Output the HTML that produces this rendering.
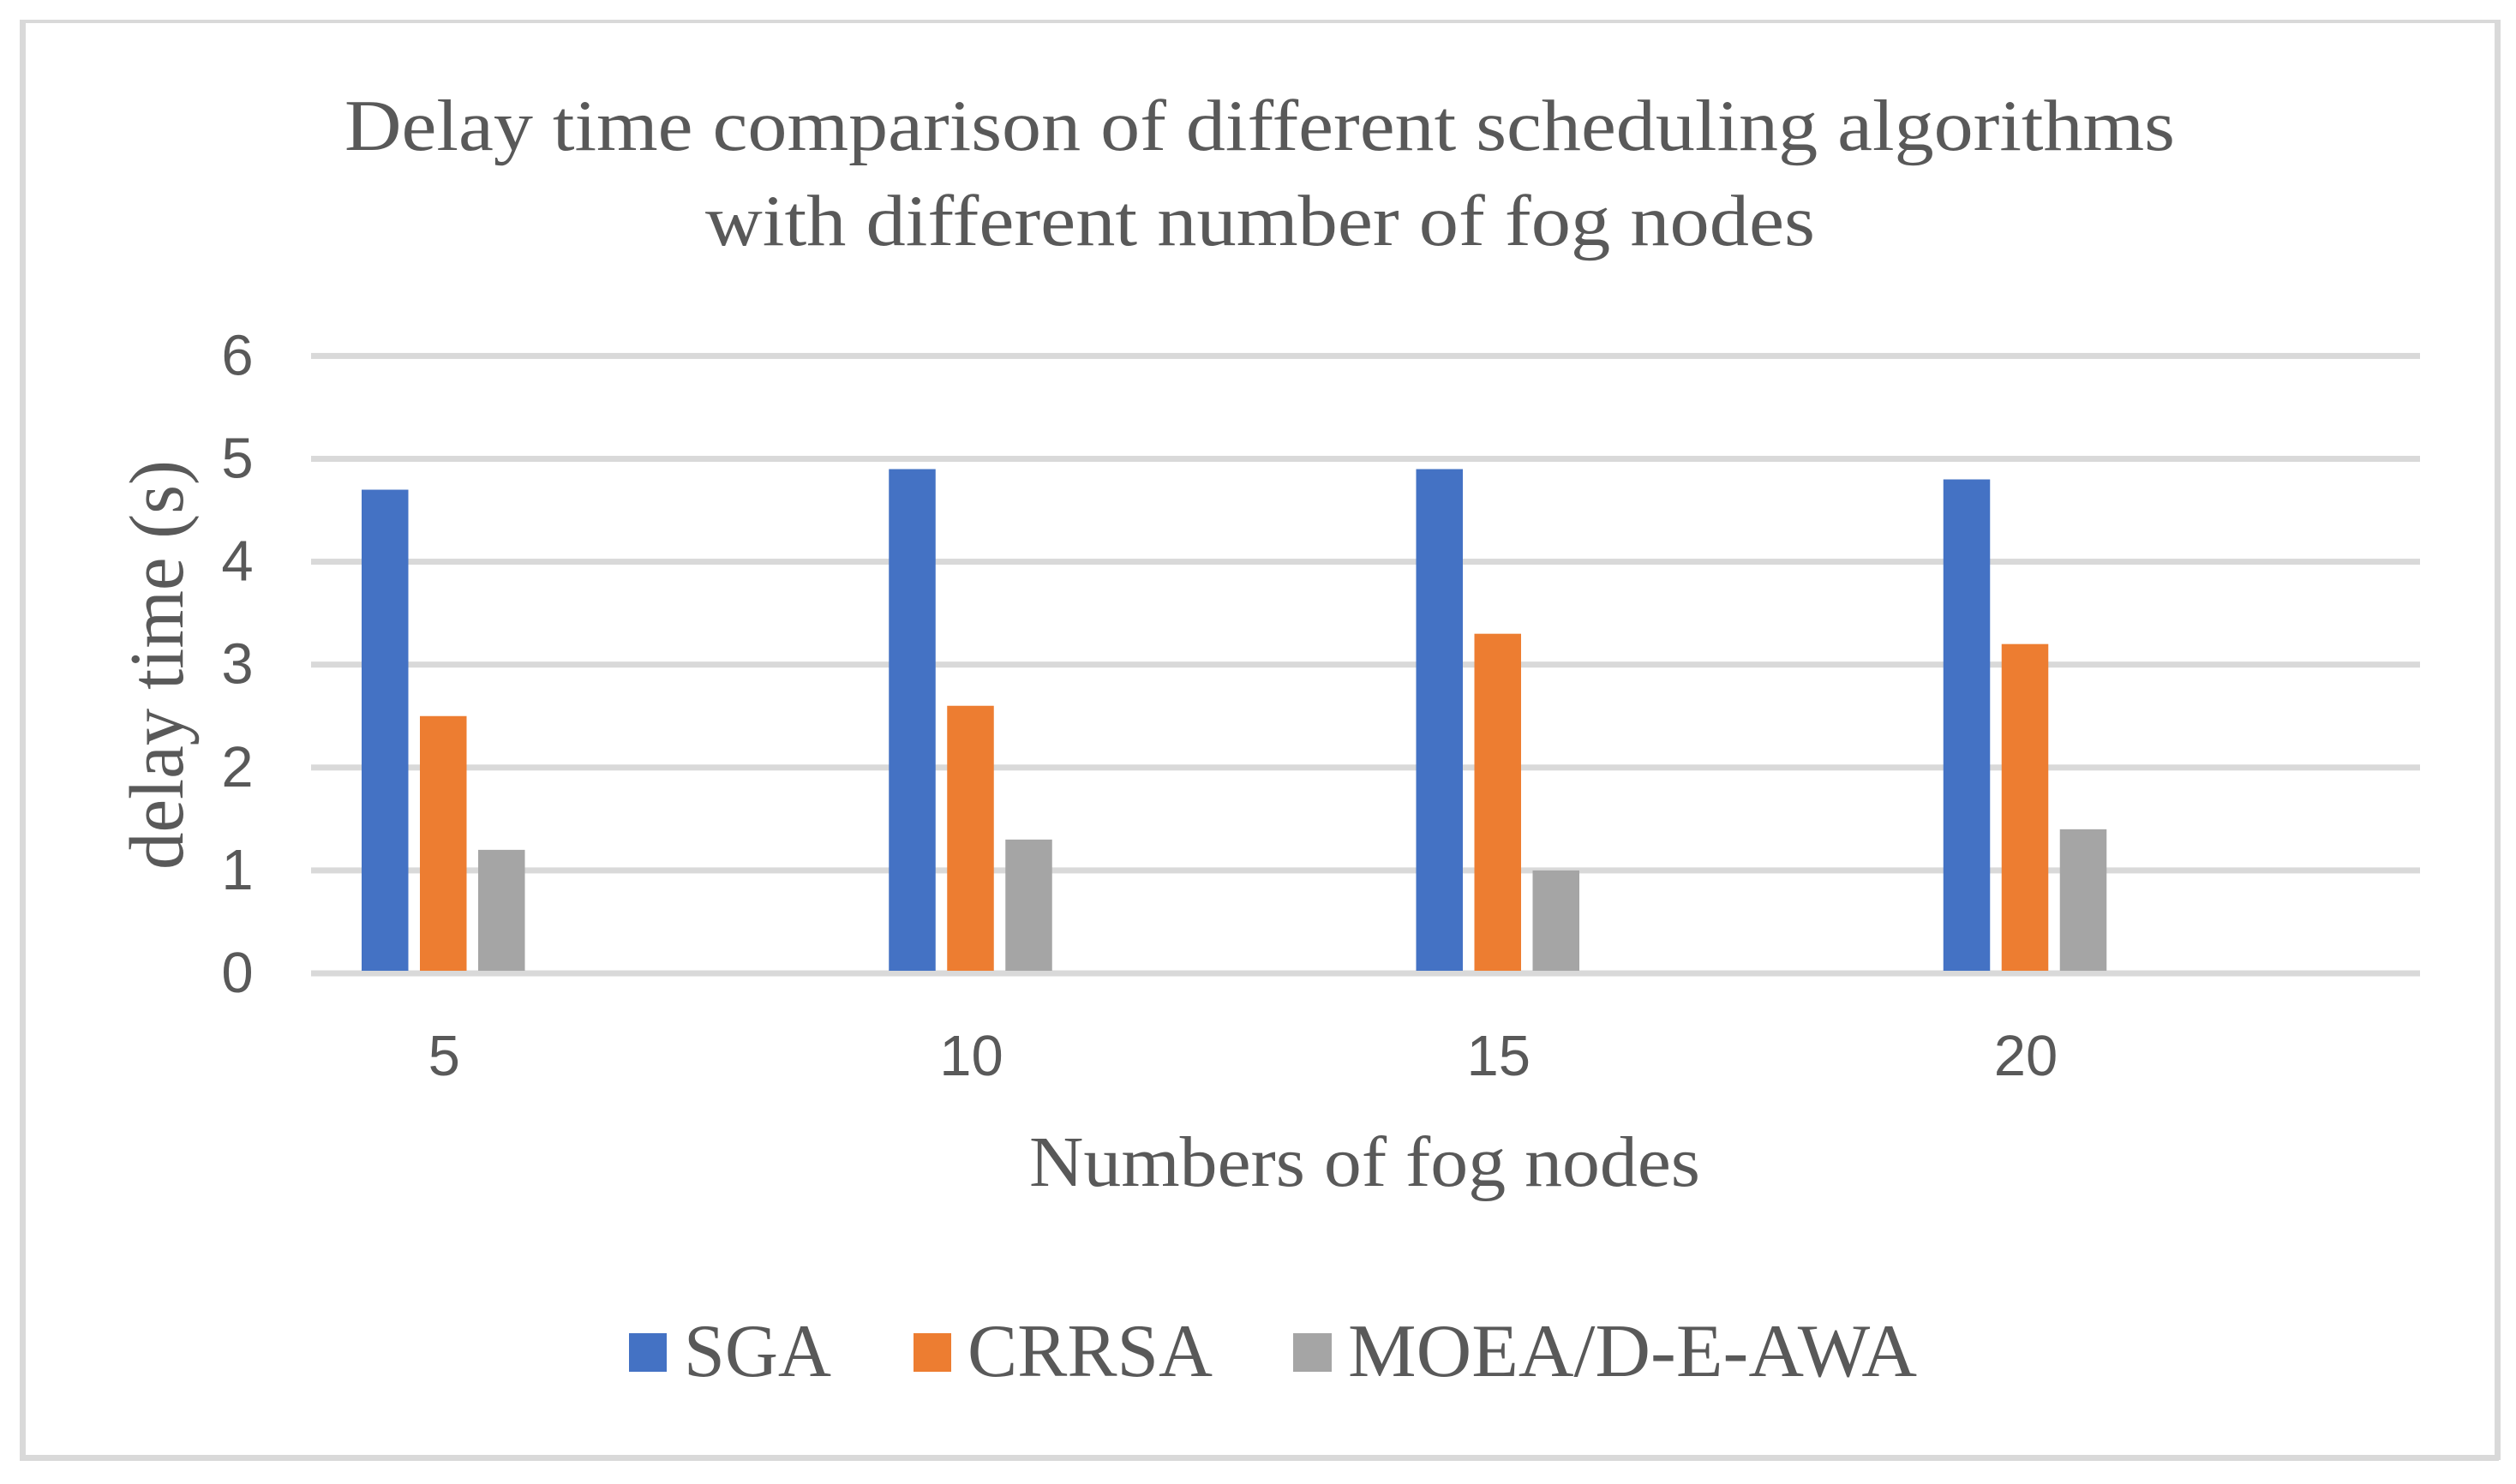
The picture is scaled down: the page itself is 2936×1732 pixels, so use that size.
<!DOCTYPE html>
<html lang="en">
<head>
<meta charset="utf-8">
<title>Delay time comparison of different scheduling algorithms</title>
<style>
  html, body { margin: 0; padding: 0; background: #ffffff; }
  body { width: 2936px; height: 1732px; overflow: hidden; }
  svg { display: block; }
  .serif { font-family: "Liberation Serif", serif; fill: #595959; }
  .sans { font-family: "Liberation Sans", sans-serif; fill: #595959; }
</style>
</head>
<body>
<svg id="chart" xmlns="http://www.w3.org/2000/svg" width="2936" height="1732" viewBox="0 0 2936 1732">
  <rect x="0" y="0" width="2936" height="1732" fill="#ffffff"/>
  <rect x="23" y="23" width="2895" height="4" fill="#d9d9d9"/>
  <rect x="23" y="23" width="7" height="1682" fill="#d9d9d9"/>
  <rect x="2911" y="23" width="7" height="1681" fill="#d9d9d9"/>
  <rect x="23" y="1698" width="2893" height="7" fill="#d9d9d9"/>

  <g id="grid"></g>
  <g id="bars"></g>
  <g id="y-ticks"></g>
  <g id="x-ticks"></g>

  <text class="serif" x="402" y="175" font-size="85" textLength="2136" lengthAdjust="spacingAndGlyphs">Delay time comparison of different scheduling algorithms</text>
  <text class="serif" x="823" y="286" font-size="85" textLength="1295" lengthAdjust="spacingAndGlyphs">with different number of fog nodes</text>
  <text class="serif" x="1201" y="1384" font-size="84" textLength="783" lengthAdjust="spacingAndGlyphs">Numbers of fog nodes</text>
  <text class="serif" transform="translate(213 1015) rotate(-90)" x="0" y="0" font-size="90" textLength="478" lengthAdjust="spacingAndGlyphs">delay time (s)</text>

  <g>
    <g>
      <rect x="734" y="1556" width="44" height="45" fill="#4472c4"/>
      <text class="serif" x="798" y="1606" font-size="88" textLength="172" lengthAdjust="spacingAndGlyphs">SGA</text>
    </g>
    <g>
      <rect x="1066" y="1556" width="44" height="45" fill="#ed7d31"/>
      <text class="serif" x="1129" y="1606" font-size="88" textLength="286" lengthAdjust="spacingAndGlyphs">CRRSA</text>
    </g>
    <g>
      <rect x="1509" y="1556" width="45" height="45" fill="#a5a5a5"/>
      <text class="serif" x="1573" y="1606" font-size="88" textLength="664" lengthAdjust="spacingAndGlyphs">MOEA/D-E-AWA</text>
    </g>
  </g>
</svg>
<script>
const categories = ["5", "10", "15", "20"];
const yTickLabels = [0, 1, 2, 3, 4, 5, 6];
const sgaValues = [4.7, 4.9, 4.9, 4.8];
const crrsaValues = [2.5, 2.6, 3.3, 3.2];
const moeaValues = [1.2, 1.3, 1.0, 1.4];

const NS = "http://www.w3.org/2000/svg";
const plotLeft = 363;
const plotRight = 2824;
const baselineY = 1136;
const unitHeight = 120.1;
const bandWidth = (plotRight - plotLeft) / categories.length;
const groupInset = 59;
const barWidth = 54.5;
const barStep = 68;

function yScale(value) {
  return baselineY - value * unitHeight;
}
function xScale(categoryIndex, seriesIndex) {
  return plotLeft + bandWidth * categoryIndex + groupInset + barStep * seriesIndex;
}

const gridGroup = document.getElementById("grid");
const barGroup = document.getElementById("bars");
const yTickGroup = document.getElementById("y-ticks");
const xTickGroup = document.getElementById("x-ticks");

yTickLabels.forEach(function (tick) {
  const line = document.createElementNS(NS, "rect");
  line.setAttribute("x", plotLeft);
  line.setAttribute("y", yScale(tick) - 3.5);
  line.setAttribute("width", plotRight - plotLeft);
  line.setAttribute("height", 7);
  line.setAttribute("fill", "#d9d9d9");
  
  
  gridGroup.appendChild(line);

  const label = document.createElementNS(NS, "text");
  label.setAttribute("class", "sans");
  label.setAttribute("x", 277);
  label.setAttribute("y", yScale(tick) + 22);
  label.setAttribute("font-size", 67);
  label.setAttribute("text-anchor", "middle");
  label.textContent = String(tick);
  
  
  yTickGroup.appendChild(label);
});

function drawSeries(values, seriesIndex, color) {
  values.forEach(function (value, categoryIndex) {
    const bar = document.createElementNS(NS, "rect");
    const top = yScale(value);
    bar.setAttribute("x", xScale(categoryIndex, seriesIndex));
    bar.setAttribute("y", top);
    bar.setAttribute("width", barWidth);
    bar.setAttribute("height", yScale(0) - 3 - top);
    bar.setAttribute("fill", color);
    
    
    barGroup.appendChild(bar);
  });
}
drawSeries(sgaValues, 0, "#4472c4");
drawSeries(crrsaValues, 1, "#ed7d31");
drawSeries(moeaValues, 2, "#a5a5a5");

categories.forEach(function (category, categoryIndex) {
  const label = document.createElementNS(NS, "text");
  label.setAttribute("class", "sans");
  label.setAttribute("x", xScale(categoryIndex, 1) + barWidth / 2 + 1);
  label.setAttribute("y", 1255);
  label.setAttribute("font-size", 67);
  label.setAttribute("text-anchor", "middle");
  label.textContent = category;
  
  
  xTickGroup.appendChild(label);
});
</script>
</body>
</html>
